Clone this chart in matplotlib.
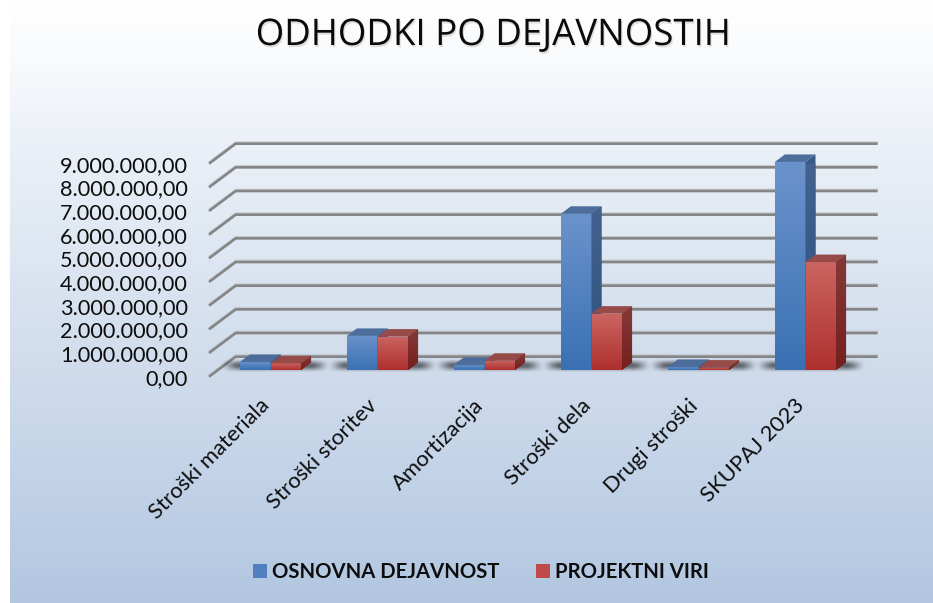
import numpy as np
import matplotlib
matplotlib.use("Agg")
import matplotlib.pyplot as plt
import matplotlib.patheffects as pe
from matplotlib.patches import Patch
from matplotlib.transforms import ScaledTranslation

plt.rcParams["font.family"] = ["Lato", "DejaVu Sans"]

# data
categories = ["Stroški materiala", "Stroški storitev", "Amortizacija",
              "Stroški dela", "Drugi stroški", "SKUPAJ 2023"]
osnovna = [340000, 1440000, 220000, 6600000, 130000, 8790000]
projektni = [280000, 1410000, 390000, 2380000, 100000, 4560000]
y_ticks = [0, 1000000, 2000000, 3000000, 4000000, 5000000, 6000000, 7000000, 8000000, 9000000]
y_labels = ["0,00", "1.000.000,00", "2.000.000,00", "3.000.000,00", "4.000.000,00",
            "5.000.000,00", "6.000.000,00", "7.000.000,00", "8.000.000,00", "9.000.000,00"]
series_names = ["OSNOVNA DEJAVNOST", "PROJEKTNI VIRI"]

W, H = 933, 603
fig = plt.figure(figsize=(W / 100, H / 100), dpi=100, facecolor="white")

# background gradient
bg = fig.add_axes([10 / W, 0, (W - 10) / W, 1], zorder=0)
stops_y = np.array([0, 60, 150, 370, 550, 603]) / 603
stops_c = np.array([[255, 255, 255], [248, 250, 252], [234, 240, 247],
                    [208, 220, 236], [185, 204, 228], [178, 198, 224]]) / 255
yy = np.linspace(0, 1, 603)
grad = np.stack([np.interp(yy, stops_y, stops_c[:, k]) for k in range(3)], axis=1)[:, None, :]
bg.imshow(grad, aspect="auto", extent=[0, 1, 1, 0])
bg.axis("off")

# main axes = front plane of the fake 3D box
M = 1e6
PX_X = 642 / 6        # px per category
PX_Y = 23.67          # px per million
left, right, bottom = 209, 851, 376.7
top = bottom - 9 * PX_Y
ax = fig.add_axes([left / W, 1 - bottom / H, (right - left) / W, (bottom - top) / H], zorder=1)
ax.patch.set_alpha(0)

def dx(px):
    return px / PX_X

def dy(px):
    return px / PX_Y * M

# gridlines with back wall and the slanted floor edge
for t in y_ticks:
    xs = [0, dx(26.7), 6 + dx(26.7)]
    ys = [t, t + dy(20), t + dy(20)]
    ax.plot(xs, [v + dy(1.3) for v in ys], color="#b4b8bd", lw=1.6, alpha=0.6, clip_on=False, zorder=1,
            solid_capstyle="butt")
    ax.plot(xs, ys, color="#858585", lw=1.9, clip_on=False, zorder=2, solid_capstyle="butt")

BAR_W = 30.6 / PX_X
SHIFT_X = dx(8.0)
SHIFT_Y = dy(6.7)
DEPTH_X = dx(10)
DEPTH_Y = dy(7.5)

def vgrad(c_top, c_bot):
    a = np.array(matplotlib.colors.to_rgb(c_top))
    b = np.array(matplotlib.colors.to_rgb(c_bot))
    t = np.linspace(0, 1, 64)[:, None]
    return (a * (1 - t) + b * t)[:, None, :]

blue_grad = vgrad("#6b93cb", "#3a71b4")
red_grad = vgrad("#cb6561", "#ae302e")
blue_side = vgrad("#44628f", "#2b5280")
red_side = vgrad("#853a38", "#741f1e")

# soft floor shadow behind each pair of bars
sx = np.linspace(-1, 1, 160)
sy = np.linspace(-1, 1, 40)
gx, gy = np.meshgrid(sx, sy)

def smooth(v):
    v = np.clip(v, 0, 1)
    return v * v * (3 - 2 * v)

a_x = smooth((1 - np.abs(gx)) / 0.36)
a_y = smooth((1 - np.abs(gy)) / 1.0)
shadow = np.zeros((40, 160, 4))
shadow[..., 3] = 0.55 * a_x * a_y

x_pos = np.arange(len(categories)) + 0.5 + SHIFT_X

for i, x in enumerate(x_pos):
    ax.imshow(shadow, extent=[x - BAR_W - dx(21), x + BAR_W + dx(30), SHIFT_Y - dy(3), SHIFT_Y + dy(12)],
              aspect="auto", zorder=3, clip_on=False, interpolation="bilinear")

def draw_bar(x0, v, front, side, c_top, z):
    rect = ax.bar(x0, v, BAR_W, bottom=SHIFT_Y, align="edge", color="none", linewidth=0, zorder=z)[0]
    y0, y1 = SHIFT_Y, SHIFT_Y + v
    x1 = x0 + BAR_W
    im = ax.imshow(front, extent=[x0, x1, y0, y1], aspect="auto", zorder=z, interpolation="bilinear")
    im.set_clip_path(rect)
    ax.fill([x0, x1, x1 + DEPTH_X, x0 + DEPTH_X], [y1, y1, y1 + DEPTH_Y, y1 + DEPTH_Y],
            color=c_top, lw=0, zorder=z, clip_on=False)
    # side face with gradient, clipped to the parallelogram
    poly = ax.fill([x1, x1 + DEPTH_X, x1 + DEPTH_X, x1], [y0, y0 + DEPTH_Y, y1 + DEPTH_Y, y1],
                   color=side[32, 0], lw=0, zorder=z, clip_on=False)[0]
    im2 = ax.imshow(side, extent=[x1, x1 + DEPTH_X, y0, y1 + DEPTH_Y], aspect="auto", zorder=z)
    im2.set_clip_path(poly)

for i, x in enumerate(x_pos):
    draw_bar(x - BAR_W, osnovna[i], blue_grad, blue_side, "#4d6d9c", 4 + i * 0.1)
    draw_bar(x, projektni[i], red_grad, red_side, "#964b49", 4.05 + i * 0.1)

ax.set_xlim(0, 6)
ax.set_ylim(0, 9 * M)
for s in ax.spines.values():
    s.set_visible(False)

ax.set_yticks(y_ticks)
ax.set_yticklabels(y_labels, fontsize=15.6, color="#0d0d0d")
ax.set_xticks(np.arange(len(categories)) + 0.5)
ax.set_xticklabels(categories, fontsize=15.8, color="#0d0d0d", rotation=45, ha="right",
                   rotation_mode="anchor")
ax.tick_params(axis="y", length=0, pad=15)
ax.tick_params(axis="x", length=0, pad=13.5)
for lab in ax.get_xticklabels():
    lab.set_transform(lab.get_transform() + ScaledTranslation(-3 / 100, 0, fig.dpi_scale_trans))

# title, with a faint drop shadow
fig.text(493.5 / W, 1 - 36 / H, "ODHODKI PO DEJAVNOSTIH", fontsize=26.4, color="#0a0a0a",
         ha="center", va="center", family="Open Sans",
         path_effects=[pe.SimplePatchShadow(offset=(0.8, -1.5), shadow_rgbFace="#777777", alpha=0.22), pe.Normal()])

handles = [Patch(facecolor="#5280bf", edgecolor="none"), Patch(facecolor="#bf4a47", edgecolor="none")]
leg = fig.legend(handles, series_names, loc="center", bbox_to_anchor=(481 / W, 1 - 572 / H), ncol=2,
                 frameon=False, prop={"size": 14.6, "weight": "bold"}, handlelength=0.69,
                 handleheight=0.69, handletextpad=0.25, columnspacing=1.82)
for t in leg.get_texts():
    t.set_color("#0d0d0d")

plt.savefig("out.png", dpi=100)
